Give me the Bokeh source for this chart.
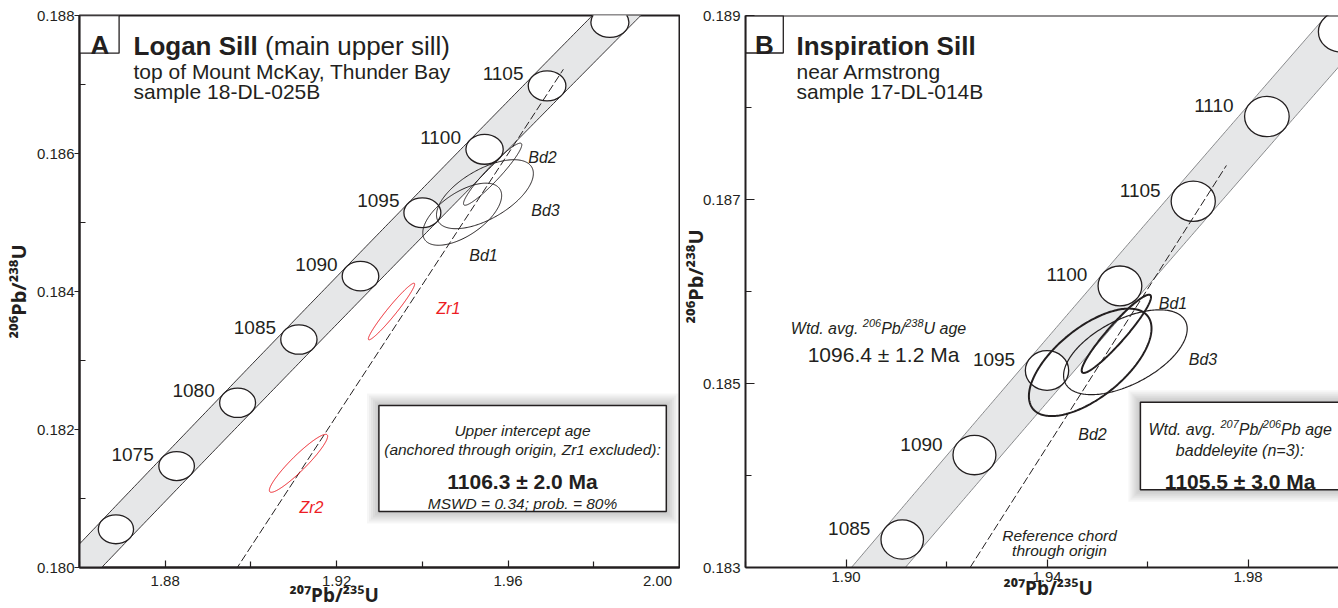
import numpy as np
from bokeh.plotting import figure
from bokeh.models import Label, FixedTicker, NumeralTickFormatter, Span, ColumnDataSource, Range1d, Title
from bokeh.layouts import row
from bokeh.embed import file_html
from bokeh.resources import INLINE
from bokeh.core.properties import value

FONT = "Liberation Sans"
TITLE_FONT = "Noto Sans"
Y_TITLE_SIZE = "20px"
X_TITLE_SIZE = "19px"
INK = "#231f20"
RED = "#ed1c24"
BAND_FILL = "#e6e7e8"

# ---------------- data ----------------
# U decay constants (Jaffey et al. 1971) and 2-sigma relative uncertainties
LAMBDA_238 = 1.55125e-10
LAMBDA_235 = 9.8485e-10
REL2S_238 = 0.00107
REL2S_235 = 0.00136

# Panel A - Logan Sill
a_marker_ages = [1070, 1075, 1080, 1085, 1090, 1095, 1100, 1105, 1110]
a_label_ages = [1075, 1080, 1085, 1090, 1095, 1100, 1105]
a_spots = ["Bd1", "Bd2", "Bd3", "Zr1", "Zr2"]
a_r75 = [1.9493, 1.9564, 1.9546, 1.9328, 1.9111]
a_r75_err = [0.0092, 0.0068, 0.0113, 0.0054, 0.0068]
a_r68 = [0.18512, 0.18570, 0.18541, 0.18371, 0.18151]
a_r68_err = [0.00045, 0.00045, 0.00050, 0.00041, 0.00042]
a_rho = [0.60, 0.945, 0.60, 0.968, 0.933]
a_upper_intercept_age = 1106.3

# Panel B - Inspiration Sill
b_marker_ages = [1080, 1085, 1090, 1095, 1100, 1105, 1110, 1115]
b_label_ages = [1085, 1090, 1095, 1100, 1105, 1110]
b_spots = ["Bd1", "Bd2", "Bd3"]
b_r75 = [1.9538, 1.9486, 1.9556]
b_r75_err = [0.0069, 0.0122, 0.0123]
b_r68 = [0.18554, 0.18523, 0.18534]
b_r68_err = [0.000425, 0.000584, 0.000461]
b_rho = [0.94, 0.63, 0.55]
b_chord_r75 = [1.9247, 1.9757]
b_chord_r68 = [0.1830, 0.18737]

# tick values
a_xticks = [1.88, 1.92, 1.96, 2.00]
a_xminor = [1.86, 1.90, 1.94, 1.98]
a_yticks = [0.180, 0.182, 0.184, 0.186, 0.188]
a_yminor = [0.181, 0.183, 0.185, 0.187]
b_xticks = [1.90, 1.94, 1.98]
b_xminor = [1.88, 1.92, 1.96, 2.00]
b_yticks = [0.183, 0.185, 0.187, 0.189]
b_yminor = [0.184, 0.186, 0.188]

X_TITLE = "\u00b2\u2070\u2077Pb/\u00b2\u00b3\u2075U"
Y_TITLE = "\u00b2\u2070\u2076Pb/\u00b2\u00b3\u2078U"


# ---------------- layout helpers ----------------
class Frame:
    """maps page pixels to data values of one panel"""
    def __init__(s, x0, x1, y0, y1, left, right, top, bottom):
        s.x0, s.x1, s.y0, s.y1 = x0, x1, y0, y1
        s.left, s.right, s.top, s.bottom = left, right, top, bottom

    def x(s, px):
        return s.x0 + (px - s.left) * (s.x1 - s.x0) / (s.right - s.left)

    def y(s, py):
        return s.y1 - (py - s.top) * (s.y1 - s.y0) / (s.bottom - s.top)

    def dx(s, d):
        return d * (s.x1 - s.x0) / (s.right - s.left)

    def dy(s, d):
        return -d * (s.y1 - s.y0) / (s.bottom - s.top)


GA = Frame(1.86, 2.00, 0.180, 0.188, 79, 679, 15, 567)
GB = Frame(1.88, 2.00, 0.183, 0.189, 745, 1348, 15, 567)

REG_W = {' ': 278, '(': 333, ')': 333, '.': 278, ',': 278, '/': 278, ':': 278, ';': 278,
         '=': 584, '%': 889, '\u00b1': 549, '-': 333,
         'A': 667, 'B': 667, 'C': 722, 'D': 722, 'E': 667, 'F': 611, 'G': 778, 'H': 722,
         'I': 278, 'J': 500, 'K': 667, 'L': 556, 'M': 833, 'N': 722, 'O': 778, 'P': 667,
         'Q': 778, 'R': 722, 'S': 667, 'T': 611, 'U': 722, 'V': 667, 'W': 944, 'X': 667,
         'Y': 667, 'Z': 611,
         'a': 556, 'b': 556, 'c': 500, 'd': 556, 'e': 556, 'f': 278, 'g': 556, 'h': 556,
         'i': 222, 'j': 222, 'k': 500, 'l': 222, 'm': 833, 'n': 556, 'o': 556, 'p': 556,
         'q': 556, 'r': 333, 's': 500, 't': 278, 'u': 556, 'v': 500, 'w': 722, 'x': 500,
         'y': 500, 'z': 500}
BOLD_W = {' ': 278, '(': 333, ')': 333, '.': 278, '/': 278, '\u00b1': 549,
          'A': 722, 'B': 722, 'I': 278, 'L': 611, 'M': 833, 'P': 667, 'S': 667, 'U': 722,
          'a': 556, 'b': 611, 'c': 556, 'd': 611, 'e': 556, 'g': 611, 'i': 278, 'l': 278,
          'n': 611, 'o': 611, 'p': 611, 'r': 389, 's': 556, 't': 333, 'u': 611}


def text_w(t, size, style):
    tab = BOLD_W if "bold" in style else REG_W
    return sum(tab.get(c, 556) for c in t) * size / 1000.0


def label(p, g, text, px, py, size, style="normal", align="left", color=INK):
    p.add_layout(Label(x=g.x(px), y=g.y(py), text=text, text_font=FONT,
                       text_font_size=f"{size}px", text_font_style=style,
                       text_color=color, text_align=align, text_baseline="alphabetic"))


def rich(p, g, runs, px, py, align="left"):
    ws = [text_w(t, s, st) for t, s, st, r in runs]
    total = sum(ws)
    off = {"left": 0.0, "center": -total / 2, "right": -total}[align]
    for (t, s, st, r), w in zip(runs, ws):
        lead = text_w(t[:len(t) - len(t.lstrip())], s, st)
        txt = t.strip()
        if txt:
            label(p, g, txt, px + off + lead, py - r, s, st, "left")
        off += w


def text_box(p, g, l, t, r, b, shadow=True, lw=1.5):
    if shadow:
        for k in range(6, 0, -1):
            d = 2 * k
            p.quad(left=[g.x(l - d)], right=[g.x(r + d)], top=[g.y(t - d)], bottom=[g.y(b + d)],
                   fill_color="black", fill_alpha=0.035, line_color=None)
    p.quad(left=[g.x(l)], right=[g.x(r)], top=[g.y(t)], bottom=[g.y(b)],
           fill_color="white", line_color=INK, line_width=lw)


def axis_title(text, size, align, offset, vertical_align, standoff):
    return Title(text=text, align=align, offset=offset, vertical_align=vertical_align,
                 standoff=standoff, text_font=TITLE_FONT, text_font_size=size,
                 text_font_style="bold", text_color=INK)


# ---------------- concordia helpers ----------------
def concordia(t_ma):
    t = np.asarray(t_ma, dtype=float) * 1e6
    return np.expm1(LAMBDA_235 * t), np.expm1(LAMBDA_238 * t)


def decay_halfwidths(t_ma):
    t = np.asarray(t_ma, dtype=float) * 1e6
    x, y = concordia(t_ma)
    return (1 + x) * LAMBDA_235 * t * REL2S_235, (1 + y) * LAMBDA_238 * t * REL2S_238


def error_ellipse(x, sx, y, sy, rho, n=240):
    th = np.linspace(0, 2 * np.pi, n)
    return x + sx * np.cos(th), y + sy * (rho * np.cos(th) + np.sqrt(1 - rho ** 2) * np.sin(th))


def draw_band(p, t_lo, t_hi, edge_color, edge_width):
    t = np.linspace(t_lo, t_hi, 400)
    x, y = concordia(t)
    hx, hy = decay_halfwidths(t)
    slope = LAMBDA_238 * (1 + y) / (LAMBDA_235 * (1 + x))
    w = np.sqrt(hx ** 2 + (hy / slope) ** 2)
    p.patch(np.concatenate([x - w, (x + w)[::-1]]), np.concatenate([y, y[::-1]]),
            fill_color=BAND_FILL, line_color=None)
    p.line(x - w, y, line_color=edge_color, line_width=edge_width)
    p.line(x + w, y, line_color=edge_color, line_width=edge_width)


def draw_markers(p, ages, lw):
    x, y = concordia(ages)
    hx, hy = decay_halfwidths(ages)
    p.ellipse(x=x, y=y, width=2 * hx, height=2 * hy, fill_color="white",
              line_color=INK, line_width=lw)


def draw_age_labels(p, g, ages, off_px):
    x, y = concordia(ages)
    src = ColumnDataSource(dict(x=x + g.dx(off_px[0]), y=y + g.dy(off_px[1]),
                                text=[str(a) for a in ages]))
    p.text(x="x", y="y", text="text", source=src, text_font=value(FONT),
           text_font_size="19px", text_color=INK, text_align="center",
           text_baseline="alphabetic")


def draw_spots(p, g, names, r75, r75e, r68, r68e, rho, colors, widths, label_px):
    xs, ys = [], []
    for i in range(len(names)):
        ex, ey = error_ellipse(r75[i], r75e[i], r68[i], r68e[i], rho[i])
        xs.append(ex)
        ys.append(ey)
    p.patches(xs="xs", ys="ys", source=ColumnDataSource(dict(xs=xs, ys=ys, spot_color=colors, lw=widths)),
              fill_color=None, line_color="spot_color", line_width="lw")
    src = ColumnDataSource(dict(x=[g.x(label_px[n][0]) for n in names],
                                y=[g.y(label_px[n][1]) for n in names],
                                text=list(names), spot_color=colors))
    p.text(x="x", y="y", text="text", source=src, text_font=value(FONT), text_font_size="16px",
           text_font_style="italic", text_color="spot_color", text_align="center",
           text_baseline="alphabetic")


def style_axis(ax, major_in, major_out, minor_in, minor_out, standoff):
    ax.axis_line_color = INK
    ax.axis_line_width = 2
    ax.major_tick_line_color = INK
    ax.major_tick_line_width = 1.2
    ax.minor_tick_line_color = INK
    ax.minor_tick_line_width = 1.2
    ax.major_tick_in = major_in
    ax.major_tick_out = major_out
    ax.minor_tick_in = minor_in
    ax.minor_tick_out = minor_out
    ax.major_label_text_font = FONT
    ax.major_label_text_font_size = "15px"
    ax.major_label_text_color = INK
    ax.major_label_standoff = standoff


def make_panel(width, g, x_end, border_left, border_right):
    p = figure(width=width, height=608, x_range=Range1d(g.x0, x_end), y_range=Range1d(g.y0, g.y1),
               output_backend="svg", toolbar_location=None, tools="",
               min_border_left=border_left, min_border_right=border_right,
               min_border_top=15, min_border_bottom=41)
    p.grid.visible = False
    p.background_fill_color = "white"
    p.border_fill_color = "white"
    return p


# ======================= Panel A =======================
pa = make_panel(680, GA, GA.x1, 79, 1)
pa.outline_line_color = INK
pa.outline_line_width = 2
pa.outline_line_alpha = 1.0
pa.xaxis.ticker = FixedTicker(ticks=a_xticks, minor_ticks=a_xminor)
pa.yaxis.ticker = FixedTicker(ticks=a_yticks, minor_ticks=a_yminor)
pa.xaxis.formatter = NumeralTickFormatter(format="0.00")
pa.yaxis.formatter = NumeralTickFormatter(format="0.000")
style_axis(pa.xaxis[0], 7, 0, 6, 0, 4)
style_axis(pa.yaxis[0], 0, 5, 6, 0, 0)
# keep the last tick label inside the panel (padded with no-break spaces)
pa.xaxis[0].major_label_overrides = {2.0: "2.00" + "\u00a0" * 2}
pa.yaxis[0].axis_label = Y_TITLE
pa.yaxis[0].axis_label_text_font = TITLE_FONT
pa.yaxis[0].axis_label_text_font_size = Y_TITLE_SIZE
pa.yaxis[0].axis_label_text_font_style = "bold"
pa.yaxis[0].axis_label_text_color = INK
pa.yaxis[0].axis_label_standoff = 2
pa.add_layout(axis_title(X_TITLE, X_TITLE_SIZE, "left", 210, "top", -20), "below")

draw_band(pa, 1040, 1130, INK, 0.9)
draw_markers(pa, a_marker_ages, 1.3)
x_ui, y_ui = concordia(a_upper_intercept_age)
chord_x = np.array([GA.x0 - 0.01, float(x_ui)])
pa.line(chord_x, chord_x * (float(y_ui) / float(x_ui)), line_color=INK, line_width=1.0, line_dash="8 3")
a_colors = [RED if s.startswith("Zr") else INK for s in a_spots]
A_SPOT_LABEL_PX = {"Bd1": (483, 255), "Bd2": (542, 157), "Bd3": (545, 210),
                   "Zr1": (448, 308), "Zr2": (311, 507)}
draw_spots(pa, GA, a_spots, a_r75, a_r75_err, a_r68, a_r68_err, a_rho, a_colors,
           [1.0] * len(a_spots), A_SPOT_LABEL_PX)
draw_age_labels(pa, GA, a_label_ages, (-44, -12))

# panel letter and titles
text_box(pa, GA, 79, 15, 118.6, 52.7, shadow=False, lw=1.3)
label(pa, GA, "A", 99.5, 44.5, 26, "bold", "center")
rich(pa, GA, [("Logan Sill", 26, "bold", 0), (" (main upper sill)", 26, "normal", 0)], 133, 45.7)
label(pa, GA, "top of Mount McKay, Thunder Bay", 133, 70.7, 21)
label(pa, GA, "sample 18-DL-025B", 133, 90.7, 21)

# result box
text_box(pa, GA, 378.4, 405, 665.8, 511)
label(pa, GA, "Upper intercept age", 522, 430, 15.5, "italic", "center")
label(pa, GA, "(anchored through origin, Zr1 excluded):", 522, 449, 15.5, "italic", "center")
label(pa, GA, "1106.3 \u00b1 2.0 Ma", 522, 480.7, 21, "bold", "center")
label(pa, GA, "MSWD = 0.34; prob. = 80%", 522, 503, 15.5, "italic", "center")

# ======================= Panel B =======================
pb = make_panel(658, GB, GB.x(1338), 65, 0)
pb.outline_line_color = None
pb.add_layout(Span(location=GB.y1, dimension="width", line_color=INK, line_width=2))
pb.xaxis.ticker = FixedTicker(ticks=b_xticks, minor_ticks=b_xminor)
pb.yaxis.ticker = FixedTicker(ticks=b_yticks, minor_ticks=b_yminor)
pb.xaxis.formatter = NumeralTickFormatter(format="0.00")
pb.yaxis.formatter = NumeralTickFormatter(format="0.000")
style_axis(pb.xaxis[0], 8, 0, 6, 0, 4)
style_axis(pb.yaxis[0], 9, 0, 6, 0, 5)
pb.add_layout(axis_title(X_TITLE, X_TITLE_SIZE, "left", 258, "top", -20), "below")
pb.add_layout(axis_title(Y_TITLE, Y_TITLE_SIZE, "left", 244, "bottom", -18), "left")

draw_band(pb, 1060, 1130, "#6d6e71", 0.8)
draw_markers(pb, b_marker_ages, 1.3)
pb.line(b_chord_r75, b_chord_r68, line_color=INK, line_width=1.0, line_dash="8 3")
B_SPOT_WIDTH = {"Bd1": 2.0, "Bd2": 2.0, "Bd3": 1.2}
B_SPOT_LABEL_PX = {"Bd1": (1172.5, 303), "Bd2": (1092, 434), "Bd3": (1202.5, 359)}
draw_spots(pb, GB, b_spots, b_r75, b_r75_err, b_r68, b_r68_err, b_rho, [INK] * len(b_spots),
           [B_SPOT_WIDTH[s] for s in b_spots], B_SPOT_LABEL_PX)
draw_age_labels(pb, GB, b_label_ages, (-53, -11))

text_box(pb, GB, 745, 15, 782.8, 52.5, shadow=False, lw=1.3)
label(pb, GB, "B", 764, 44.5, 26, "bold", "center")
label(pb, GB, "Inspiration Sill", 796, 45.7, 26, "bold")
label(pb, GB, "near Armstrong", 796, 70.5, 21)
label(pb, GB, "sample 17-DL-014B", 796, 90.7, 21)

rich(pb, GB, [("Wtd. avg. ", 16, "italic", 0), ("206", 11, "italic", 6), ("Pb/", 16, "italic", 0),
              ("238", 11, "italic", 6), ("U age", 16, "italic", 0)], 878, 328, "center")
label(pb, GB, "1096.4 \u00b1 1.2 Ma", 883, 354, 21, "normal", "center")

label(pb, GB, "Reference chord", 1059, 535, 15.5, "italic", "center")
label(pb, GB, "through origin", 1059, 550, 15.5, "italic", "center")

text_box(pb, GB, 1139.9, 401.7, 1339.3, 489.3)
rich(pb, GB, [("Wtd. avg. ", 16, "italic", 0), ("207", 11, "italic", 6), ("Pb/", 16, "italic", 0),
              ("206", 11, "italic", 6), ("Pb age", 16, "italic", 0)], 1239.6, 429, "center")
label(pb, GB, "baddeleyite (n=3):", 1239.6, 450, 16, "italic", "center")
label(pb, GB, "1105.5 \u00b1 3.0 Ma", 1239.6, 480.5, 21, "bold", "center")

layout = row(pa, pb)
open("out.html", "w").write(file_html(layout, INLINE, title="Concordia diagrams"))
